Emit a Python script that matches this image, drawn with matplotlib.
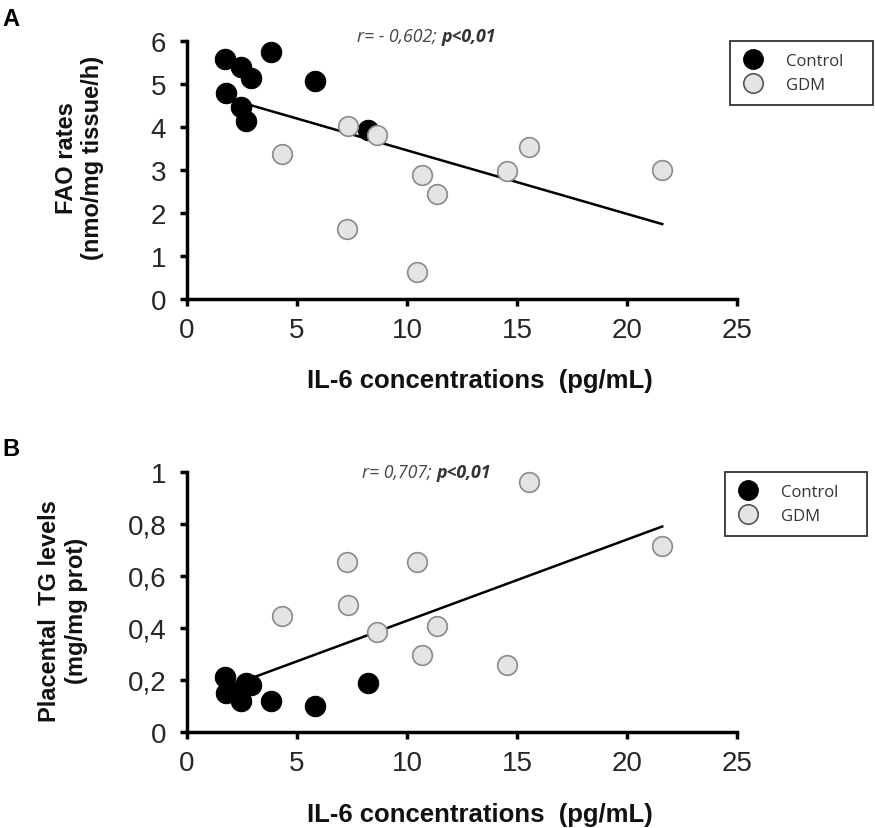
import numpy as np
import matplotlib
matplotlib.use("Agg")
import matplotlib.pyplot as plt
from matplotlib.lines import Line2D

plt.rcParams['font.family'] = ['Liberation Sans', 'DejaVu Sans']

# ---- data ----
ctrl_il6 = [1.73, 1.76, 2.45, 2.45, 2.67, 2.9, 3.8, 5.8, 8.24]
ctrl_fao = [5.58, 4.79, 5.40, 4.46, 4.15, 5.13, 5.75, 5.08, 3.93]
ctrl_tg = [0.21, 0.15, 0.16, 0.12, 0.19, 0.18, 0.12, 0.10, 0.19]

gdm_il6 = [7.33, 8.62, 4.33, 10.67, 11.35, 7.26, 10.47, 15.55, 14.55, 21.6]
gdm_fao = [4.02, 3.81, 3.37, 2.89, 2.44, 1.63, 0.62, 3.53, 2.98, 3.00]
gdm_tg = [0.487, 0.385, 0.446, 0.295, 0.406, 0.655, 0.655, 0.963, 0.256, 0.714]

x_ticks = [0, 5, 10, 15, 20, 25]
fao_ticks = [0, 1, 2, 3, 4, 5, 6]
tg_ticks = [0, 0.2, 0.4, 0.6, 0.8, 1.0]
tg_labels = ['0', '0,2', '0,4', '0,6', '0,8', '1']

W, H = 875, 829
fig = plt.figure(figsize=(W / 100, H / 100), dpi=100)
renderer = fig.canvas.get_renderer()


def px_axes(l, t, r, b):
    return fig.add_axes([l / W, 1 - b / H, (r - l) / W, (b - t) / H])


def style(ax):
    for s in ['top', 'right']:
        ax.spines[s].set_visible(False)
    for s in ['left', 'bottom']:
        ax.spines[s].set_linewidth(2.5)
        ax.spines[s].set_color('black')
    ax.tick_params(direction='out', length=5, width=2.5, labelsize=20,
                   labelcolor='#262626')
    ax.tick_params(axis='x', pad=8)
    ax.tick_params(axis='y', pad=10)


def panel(ax, yc, yg, yticks, ylabels, ylim, ylab, ylab_xy, legend_box):
    style(ax)
    allx = np.array(ctrl_il6 + gdm_il6)
    ally = np.array(yc + yg)
    m, c = np.polyfit(allx, ally, 1)
    xs = np.array([allx.min(), allx.max()])
    ax.plot(xs, m * xs + c, color='black', lw=1.8, zorder=2)
    ax.scatter(ctrl_il6, yc, s=215, color='black', edgecolor='black',
               linewidth=0.8, zorder=3, clip_on=False)
    ax.scatter(gdm_il6, yg, s=200, color='#e4e4e4', edgecolor='#8a8a8a',
               linewidth=1.2, zorder=3, clip_on=False)
    ax.set_xlim(0, 25)
    ax.set_ylim(*ylim)
    ax.set_xticks(x_ticks)
    ax.set_yticks(yticks)
    ax.set_yticklabels(ylabels)
    ax.set_xlabel('IL-6 concentrations  (pg/mL)', fontsize=18.5,
                  fontweight='bold', color='#111111')
    ax.xaxis.set_label_coords(0.532, -0.268)
    ax.set_ylabel(ylab, fontsize=17, fontweight='bold', color='#111111',
                  linespacing=1.2)
    ax.yaxis.set_label_coords(*ylab_xy)
    handles = [Line2D([], [], marker='o', ls='', markersize=14,
                      markerfacecolor='black', markeredgecolor='black'),
               Line2D([], [], marker='o', ls='', markersize=14,
                      markerfacecolor='#e4e4e4', markeredgecolor='#555555',
                      markeredgewidth=1.2)]
    l, t, r, b = legend_box
    leg = fig.legend(handles, ['Control', 'GDM'], loc='upper left',
                     bbox_to_anchor=(l / W, 1 - t / H, (r - l) / W, 0.001),
                     mode='expand', fontsize=12, frameon=True,
                     fancybox=False, edgecolor='black', labelspacing=0.5,
                     borderpad=0.7, handlelength=1.4, handletextpad=1.25,
                     borderaxespad=0)
    leg.get_frame().set_linewidth(1.3)
    for txt in leg.get_texts():
        txt.set_color('#333333')
        txt.set_family(['Open Sans', 'DejaVu Sans'])


def rtext(x, y, first):
    t1 = fig.text(x / W, 1 - y / H, first, fontsize=12.8, style='italic',
                  color='#444444', va='center', ha='left',
                  family=['Open Sans', 'DejaVu Sans'])
    bb = t1.get_window_extent(renderer=renderer)
    fig.text(bb.x1 / W, 1 - y / H, 'p<0,01', fontsize=12.8, style='italic',
             fontweight='bold', color='#333333', va='center', ha='left',
             family=['Open Sans', 'DejaVu Sans'])


# Panel A
axA = px_axes(187, 42, 737, 300)
panel(axA, ctrl_fao, gdm_fao, fao_ticks, [str(v) for v in fao_ticks], (0, 6),
      'FAO rates\n(nmo/mg tissue/h)', (-0.15, 0.55), (730, 43, 873, 119))
rtext(357, 37, 'r= - 0,602; ')

# Panel B
axB = px_axes(187, 473, 737, 733)
panel(axB, ctrl_tg, gdm_tg, tg_ticks, tg_labels, (0, 1),
      'Placental  TG levels\n(mg/mg prot)', (-0.18, 0.47), (725, 474, 867, 551))
rtext(362, 473, 'r= 0,707; ')

fig.text(2 / W, 1 - 20 / H, 'A', fontsize=17, fontweight='bold',
         va='center', ha='left')
fig.text(2 / W, 1 - 450 / H, 'B', fontsize=17, fontweight='bold',
         va='center', ha='left')

fig.savefig('out.png', dpi=100)
